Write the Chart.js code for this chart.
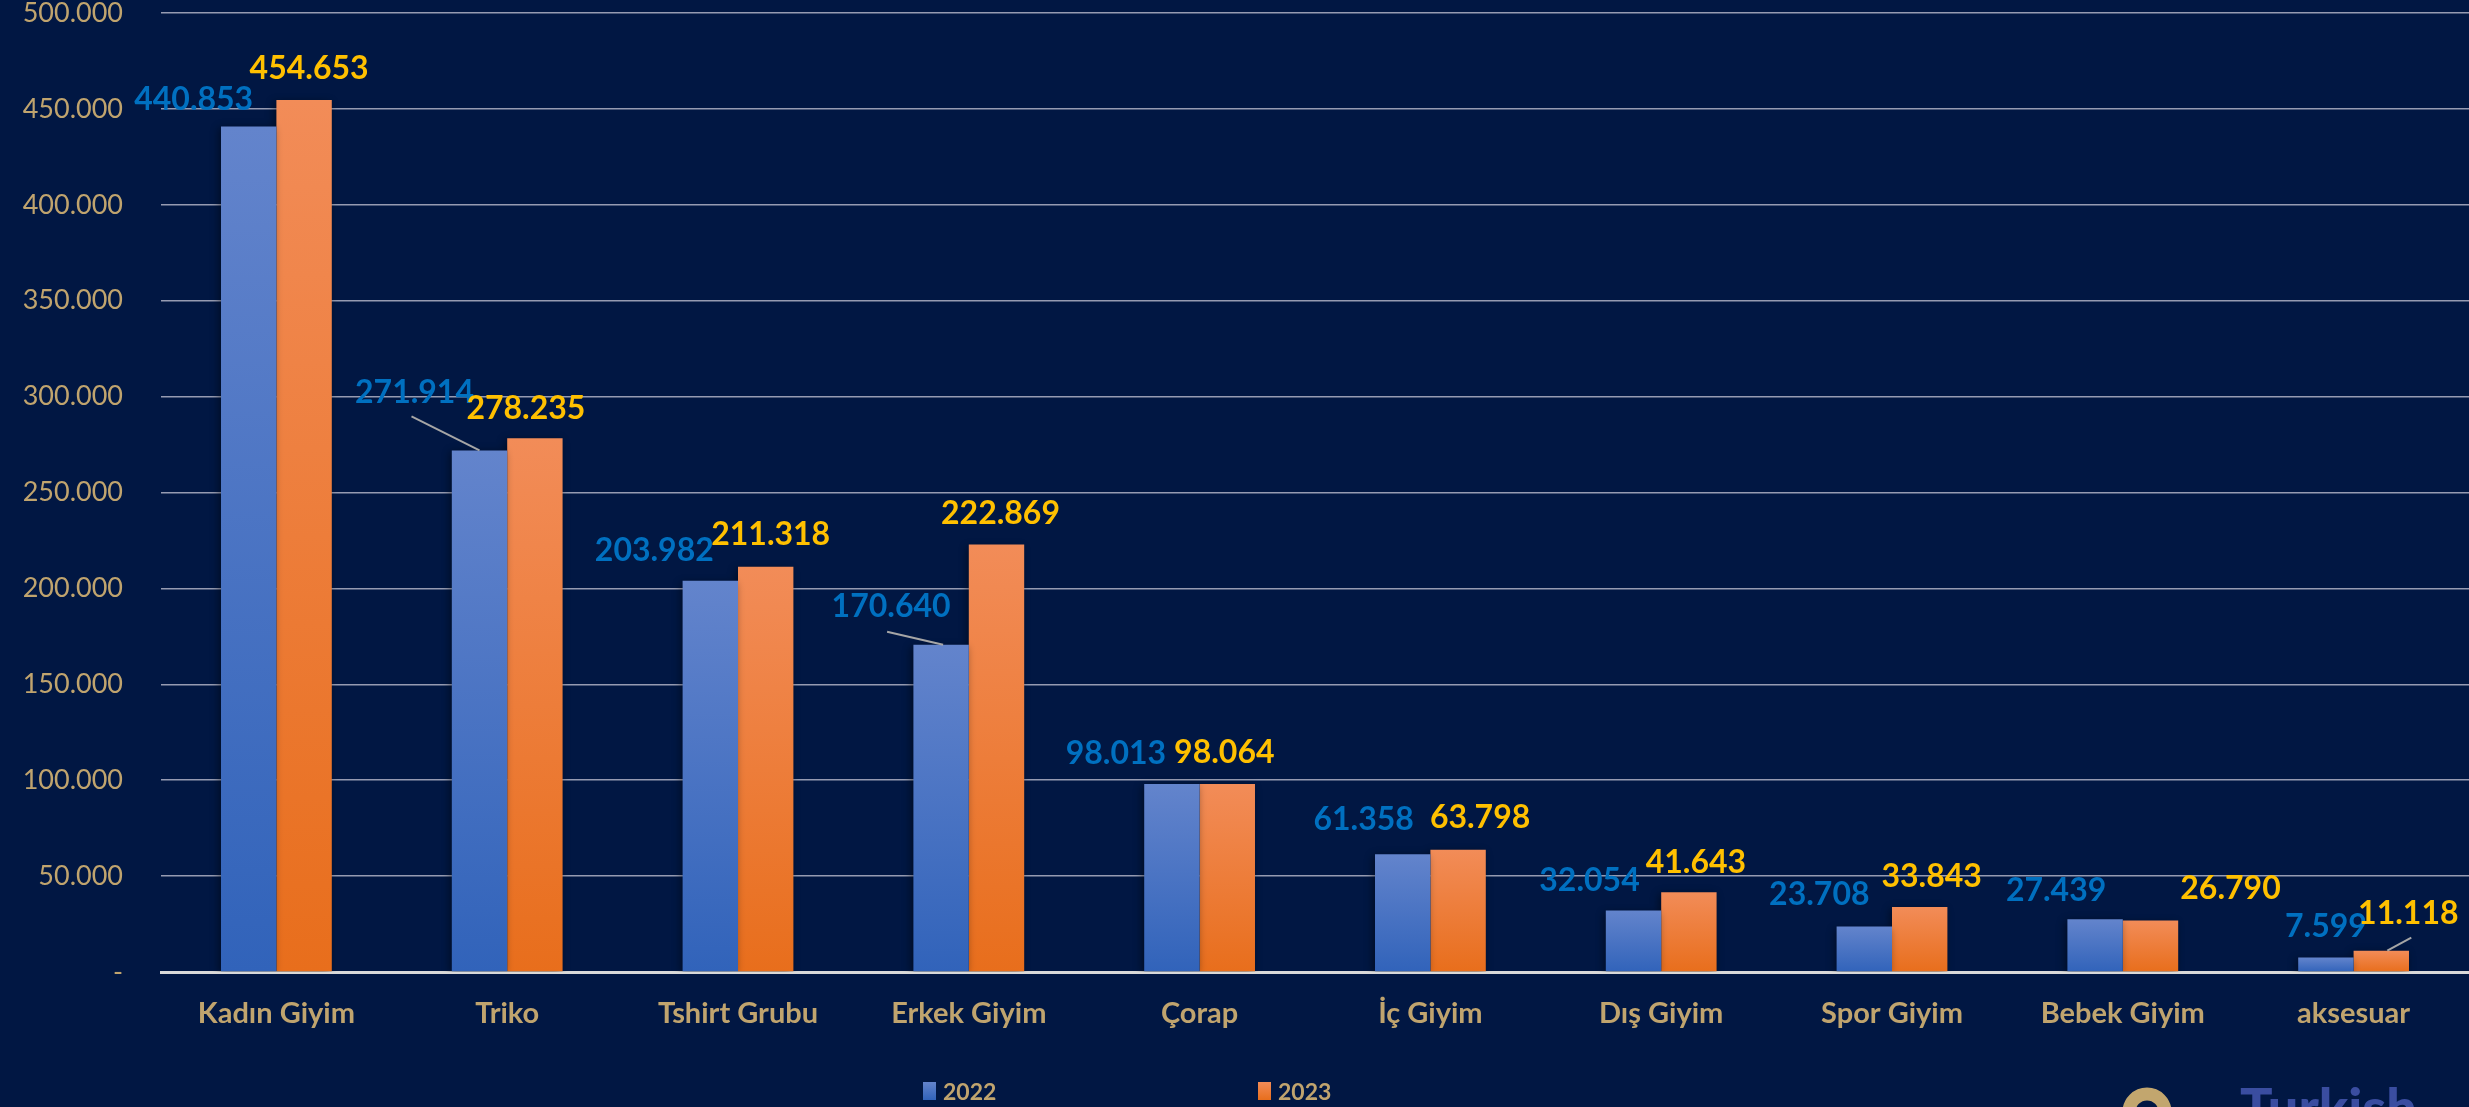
<!DOCTYPE html>
<html>
<head>
<meta charset="utf-8">
<script src="https://cdn.jsdelivr.net/npm/chart.js@4.4.1/dist/chart.umd.min.js"></script>
<style>
    html, body { margin: 0; padding: 0; background: #011743; }
    #wrap { width: 2469px; height: 1107px; }
</style>
</head>
<body>
<div id="wrap"><canvas id="chart" width="2469" height="1107"></canvas></div>
<script>
// Veriler
const categories = ['Kadın Giyim', 'Triko', 'Tshirt Grubu', 'Erkek Giyim', 'Çorap', 'İç Giyim', 'Dış Giyim', 'Spor Giyim', 'Bebek Giyim', 'aksesuar'];
const values2022 = [440853, 271914, 203982, 170640, 98013, 61358, 32054, 23708, 27439, 7599];
const values2023 = [454653, 278235, 211318, 222869, 98064, 63798, 41643, 33843, 26790, 11118];
const seriesNames = ['2022', '2023'];
const yMax = 500000;
const yStep = 50000;

// Etiket kaydırmaları (çubuğun üst ortasına göre)
const nudge2022 = [[-55, -27], [-65, -58], [-56, -30], [-50, -38], [-56, -30], [-39, -35], [-44, -30], [-45, -32], [-39, -29], [0, -31]];
const nudge2023 = [[5, -31], [-9, -30], [5, -32], [4, -31], [-3, -31], [22, -32], [7, -29], [12, -30], [80, -32], [27, -37]];
// Bağlantı çizgileri: [seri, index, başlangıç dx, dy, bitiş dx, dy]
const leaders = [[0, 1, -68, -34, 0, 0], [0, 3, -54, -13, 2, 0], [1, 9, 30, -13, 6, 0]];

const tan = '#C0A46E';
const font = 'Lato, "Open Sans", sans-serif';

function fmt(v) {
    if (v === 0) return '-';
    return String(v).replace(/\B(?=(\d{3})+(?!\d))/g, '.');
}

// Çubuk degrade dolgusu
function barFill(top, bottom) {
    return (ctx) => {
        const chart = ctx.chart;
        if (!chart.chartArea || ctx.type !== 'data') return bottom;
        const y = chart.scales.y;
        const yTop = y.getPixelForValue(ctx.raw);
        const yBot = y.getPixelForValue(0);
        const g = chart.ctx.createLinearGradient(0, yTop, 0, yBot);
        g.addColorStop(0, top);
        g.addColorStop(1, bottom);
        return g;
    };
}

const labelPlugin = {
    id: 'labels',
    beforeDatasetsDraw(chart) {
        const c = chart.ctx;
        c.save();
        c.shadowColor = 'rgba(0, 0, 0, 0.45)';
        c.shadowBlur = 8;
        c.shadowOffsetX = -2;
        c.shadowOffsetY = 2;
    },
    afterDatasetsDraw(chart) {
        const c = chart.ctx;
        c.restore();
        c.save();
        // bağlantı çizgileri
        c.strokeStyle = '#A6A6A6';
        c.lineWidth = 2;
        leaders.forEach(([ds, i, x1, y1, x2, y2]) => {
            const bar = chart.getDatasetMeta(ds).data[i];
            c.beginPath();
            c.moveTo(bar.x + x1, bar.y + y1);
            c.lineTo(bar.x + x2, bar.y + y2);
            c.stroke();
        });
        // değer etiketleri
        c.font = 'bold 32px ' + font;
        c.textAlign = 'center';
        c.textBaseline = 'middle';
        [[0, nudge2022, '#0070C0'], [1, nudge2023, '#FFC000']].forEach(([ds, nudges, color]) => {
            const meta = chart.getDatasetMeta(ds);
            const vals = chart.data.datasets[ds].data;
            c.fillStyle = color;
            meta.data.forEach((bar, i) => {
                c.fillText(fmt(vals[i]), bar.x + nudges[i][0], bar.y + nudges[i][1]);
            });
        });
        c.restore();
    },
    afterDraw(chart) {
        const c = chart.ctx;
        c.save();
        // lejant
        const items = [[923, '#6384CC', '#3163BA'], [1258, '#F28C58', '#E86E1C']];
        c.font = 'bold 23px ' + font;
        c.textBaseline = 'middle';
        c.textAlign = 'left';
        items.forEach(([x, top, bottom], k) => {
            const g = c.createLinearGradient(0, 1082, 0, 1100);
            g.addColorStop(0, top);
            g.addColorStop(1, bottom);
            c.fillStyle = g;
            c.fillRect(x, 1082, 13, 18);
            c.fillStyle = tan;
            c.fillText(seriesNames[k], x + 20, 1093);
        });
        // logo (kısmen görünür)
        c.strokeStyle = '#C2A66E';
        c.lineWidth = 13;
        c.beginPath();
        c.arc(2147, 1112, 18, 0, Math.PI * 2);
        c.stroke();
        c.fillStyle = '#3A4DA0';
        c.font = '900 54px ' + font;
        c.textBaseline = 'alphabetic';
        c.fillText('Turkish', 2240, 1127);
        c.restore();
    }
};

const ctx = document.getElementById('chart').getContext('2d');
const chart = new Chart(ctx, {
    type: 'bar',
    data: {
        labels: categories,
        datasets: [{
            label: seriesNames[0],
            data: values2022,
            backgroundColor: barFill('#6384CC', '#3163BA'),
            categoryPercentage: 0.48,
            barPercentage: 1
        }, {
            label: seriesNames[1],
            data: values2023,
            backgroundColor: barFill('#F28C58', '#E86E1C'),
            categoryPercentage: 0.48,
            barPercentage: 1
        }]
    },
    options: {
        responsive: false,
        animation: false,
        devicePixelRatio: 1,
        layout: { padding: { top: 13, left: 0, right: 0, bottom: 0 } },
        plugins: {
            legend: { display: false },
            tooltip: { enabled: false }
        },
        scales: {
            x: {
                grid: { display: false, drawTicks: false },
                border: { display: true, color: '#D9D9D9', width: 3 },
                ticks: {
                    color: tan,
                    padding: 24,
                    font: { family: font, size: 29, weight: 'bold' },
                    maxRotation: 0
                },
                afterFit(scale) {
                    scale.height = 135;
                    scale.paddingLeft = 0;
                    scale.paddingRight = 0;
                }
            },
            y: {
                min: 0,
                max: yMax,
                grid: { color: 'rgba(200, 200, 215, 0.75)', lineWidth: 1.5, drawTicks: false },
                border: { display: false },
                ticks: {
                    stepSize: yStep,
                    color: tan,
                    padding: 38,
                    font: { family: font, size: 27 },
                    callback: (v) => fmt(v)
                },
                afterFit(scale) {
                    scale.width = 161;
                    scale.paddingTop = 0;
                    scale.paddingBottom = 0;
                }
            }
        }
    },
    plugins: [labelPlugin]
});
</script>
</body>
</html>
